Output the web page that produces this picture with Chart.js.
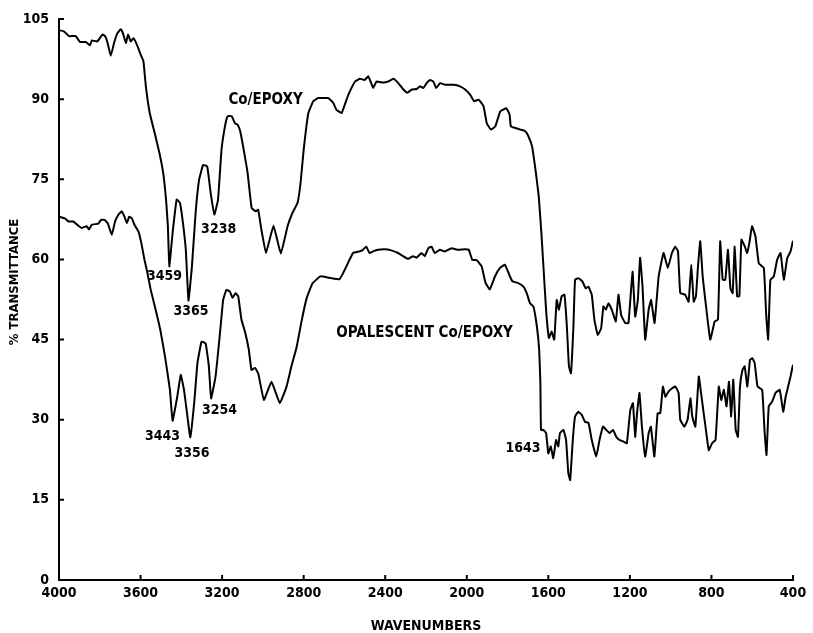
<!DOCTYPE html>
<html>
<head>
<meta charset="utf-8">
<script src="https://cdn.jsdelivr.net/npm/chart.js@4.4.1/dist/chart.umd.min.js"></script>
<style>
  html, body { margin: 0; padding: 0; background: #fff; }
  #wrap { width: 813px; height: 633px; }
</style>
</head>
<body>
<div id="wrap"><canvas id="irChart"></canvas></div>
<script>
var xTicks = [4000, 3600, 3200, 2800, 2400, 2000, 1600, 1200, 800, 400];
var yTicks = [0, 15, 30, 45, 60, 75, 90, 105];

// Co/EPOXY (upper trace)
var epoxyWn = [4000, 3976, 3951, 3918, 3897, 3869, 3848, 3839, 3812, 3787, 3774, 3763, 3746, 3730, 3714, 3697, 3687, 3672, 3661, 3648,
  3635, 3618, 3599, 3586, 3574, 3555, 3531, 3508, 3489, 3475, 3466, 3459, 3443, 3423, 3407, 3394, 3378, 3365, 3348, 3330,
  3313, 3293, 3273, 3256, 3238, 3220, 3203, 3186, 3173, 3153, 3137, 3124, 3111, 3094, 3075, 3055, 3034, 3023, 3010, 2985,
  2948, 2912, 2879, 2855, 2830, 2815, 2800, 2777, 2753, 2729, 2680, 2655, 2639, 2614, 2598, 2581, 2548, 2524, 2500, 2483,
  2472, 2459, 2443, 2410, 2385, 2360, 2336, 2311, 2291, 2270, 2246, 2229, 2213, 2197, 2180, 2164, 2150, 2131, 2106, 2065,
  2033, 2008, 1983, 1964, 1942, 1918, 1902, 1882, 1860, 1836, 1806, 1790, 1784, 1762, 1737, 1713, 1697, 1680, 1661, 1647,
  1634, 1622, 1610, 1597, 1584, 1571, 1559, 1548, 1535, 1521, 1509, 1499, 1489, 1477, 1469, 1453, 1433, 1417, 1403, 1387,
  1374, 1358, 1341, 1330, 1318, 1305, 1289, 1269, 1256, 1243, 1223, 1207, 1187, 1174, 1161, 1150, 1138, 1125, 1108, 1096,
  1079, 1059, 1035, 1014, 994, 978, 964, 953, 929, 912, 899, 887, 876, 866, 855, 843, 830, 806, 784, 768,
  757, 745, 732, 719, 707, 696, 686, 674, 663, 653, 636, 625, 614, 601, 584, 568, 543, 532, 522, 511,
  494, 478, 461, 445, 428, 412, 400];
var epoxyT = [102.9, 102.7, 101.8, 101.8, 100.7, 100.7, 100.1, 101.0, 100.8, 102.1, 101.8, 100.7, 98.1, 100.5, 102.3, 103.1, 102.4, 100.5, 102.1, 100.8,
  101.4, 100.2, 98.3, 97.1, 92.4, 87.4, 83.7, 80.0, 76.2, 71.2, 66.2, 58.7, 64.9, 71.2, 70.6, 67.4, 61.8, 52.3, 58.7, 68.7,
  74.9, 77.7, 77.4, 72.4, 68.4, 71.2, 80.5, 84.9, 86.8, 86.8, 85.5, 85.2, 84.0, 80.5, 76.2, 69.6, 69.0, 69.3, 66.2, 61.2,
  66.3, 61.1, 66.2, 68.7, 70.6, 74.4, 80.5, 87.4, 89.6, 90.2, 90.2, 89.3, 88.0, 87.4, 89.0, 90.8, 93.3, 93.8, 93.6, 94.3,
  93.3, 92.1, 93.3, 93.1, 93.3, 93.8, 93.0, 91.8, 91.2, 91.8, 91.9, 92.4, 92.1, 93.0, 93.6, 93.3, 92.1, 93.0, 92.7, 92.7,
  92.4, 91.8, 90.8, 89.6, 89.9, 88.7, 85.5, 84.3, 84.9, 87.7, 88.3, 87.1, 84.9, 84.6, 84.3, 84.0, 83.0, 81.2, 76.2, 71.8,
  64.9, 57.4, 50.0, 45.3, 46.5, 45.0, 52.4, 50.6, 53.1, 53.4, 47.4, 40.0, 38.7, 47.4, 56.2, 56.5, 55.9, 54.6, 54.9, 53.4,
  48.7, 45.9, 47.1, 51.2, 50.6, 51.8, 50.6, 48.4, 53.4, 49.6, 48.1, 48.1, 57.7, 49.3, 52.4, 60.3, 54.9, 45.0, 50.6, 52.4,
  48.1, 56.8, 61.2, 58.4, 61.2, 62.4, 61.5, 53.7, 53.4, 52.1, 59.0, 52.1, 53.1, 58.7, 63.4, 56.8, 52.4, 45.0, 48.4, 48.7,
  63.4, 56.2, 56.2, 61.8, 54.6, 53.7, 62.4, 53.1, 53.1, 63.7, 62.4, 61.2, 63.1, 66.2, 64.3, 59.3, 58.4, 50.0, 45.0, 56.2,
  56.8, 59.9, 61.2, 56.2, 60.3, 61.5, 63.5];

// OPALESCENT Co/EPOXY (lower trace)
var opalWn = [4000, 3971, 3954, 3930, 3905, 3889, 3864, 3853, 3839, 3807, 3794, 3777, 3761, 3741, 3725, 3708, 3692, 3679, 3667, 3656,
  3643, 3630, 3610, 3596, 3581, 3566, 3550, 3526, 3503, 3480, 3456, 3443, 3420, 3403, 3387, 3372, 3356, 3337, 3321, 3301,
  3281, 3265, 3254, 3232, 3212, 3195, 3179, 3162, 3149, 3134, 3121, 3105, 3088, 3069, 3056, 3039, 3023, 2995, 2958, 2917,
  2884, 2860, 2835, 2810, 2785, 2757, 2720, 2706, 2665, 2624, 2607, 2583, 2558, 2526, 2509, 2493, 2477, 2460, 2435, 2403,
  2370, 2337, 2312, 2288, 2263, 2247, 2222, 2206, 2189, 2173, 2157, 2132, 2108, 2075, 2042, 2010, 1990, 1973, 1952, 1927,
  1908, 1887, 1862, 1837, 1813, 1788, 1776, 1750, 1722, 1706, 1690, 1673, 1656, 1645, 1639, 1636, 1625, 1611, 1600, 1588,
  1576, 1562, 1551, 1543, 1526, 1513, 1502, 1493, 1480, 1469, 1453, 1436, 1420, 1403, 1387, 1365, 1349, 1332, 1316, 1300,
  1283, 1267, 1251, 1231, 1215, 1198, 1185, 1174, 1165, 1153, 1141, 1125, 1108, 1097, 1080, 1064, 1051, 1038, 1026, 1010,
  993, 977, 961, 953, 933, 917, 903, 894, 879, 862, 851, 838, 825, 813, 797, 780, 764, 752, 739, 726,
  714, 703, 693, 681, 670, 660, 648, 637, 624, 611, 599, 588, 574, 551, 540, 530, 519, 502, 486, 465,
  448, 436, 412, 400];
var opalT = [68.0, 67.7, 67.1, 67.1, 66.3, 65.9, 66.2, 65.6, 66.5, 66.7, 67.4, 67.4, 66.8, 64.6, 67.1, 68.4, 69.0, 68.0, 66.8, 68.0,
  67.7, 66.5, 65.2, 63.0, 60.0, 57.4, 54.3, 50.6, 46.8, 41.8, 35.6, 29.8, 34.3, 38.4, 35.6, 31.2, 26.7, 33.1, 40.6, 44.6,
  44.3, 40.0, 34.0, 38.1, 45.6, 52.4, 54.3, 54.0, 52.8, 53.7, 53.1, 48.7, 46.5, 43.1, 39.3, 39.7, 38.7, 33.7, 37.1, 33.1,
  36.2, 40.0, 43.5, 48.5, 52.8, 55.5, 56.8, 56.8, 56.5, 56.3, 57.4, 59.3, 61.2, 61.5, 61.8, 62.4, 61.2, 61.5, 61.8, 61.9,
  61.7, 61.2, 60.6, 60.1, 60.6, 60.3, 61.2, 60.6, 62.1, 62.4, 61.2, 61.8, 61.5, 62.1, 61.8, 61.9, 61.8, 59.9, 59.9, 58.7,
  55.6, 54.4, 56.8, 58.4, 59.0, 56.8, 55.9, 55.6, 54.9, 53.7, 51.8, 51.2, 47.4, 43.1, 36.9, 28.1, 28.1, 27.5, 23.7, 25.0,
  22.8, 26.2, 25.0, 27.5, 28.1, 26.2, 20.0, 18.7, 26.2, 30.6, 31.5, 30.9, 29.6, 29.4, 26.2, 23.1, 26.2, 28.7, 28.1, 27.5,
  28.1, 26.8, 26.2, 25.9, 25.6, 31.8, 33.1, 26.8, 31.2, 35.0, 28.7, 23.1, 27.5, 28.7, 23.1, 31.2, 31.2, 36.2, 34.3, 35.3,
  35.9, 36.2, 35.0, 30.0, 28.7, 30.0, 34.0, 30.6, 28.7, 38.1, 35.0, 31.2, 27.5, 24.3, 25.6, 26.2, 36.2, 33.7, 35.6, 32.5,
  37.1, 30.6, 37.5, 28.1, 26.8, 36.2, 39.3, 40.0, 36.2, 41.2, 41.5, 40.6, 36.2, 35.6, 28.1, 23.4, 32.5, 33.4, 35.0, 35.6,
  31.5, 34.3, 38.1, 40.3];

var seriesNames = ['Co/EPOXY', 'OPALESCENT Co/EPOXY'];
var nameAtWn = [2987, 2207];
var nameAtT = [89.8, 46.2];

var peakText = ['3459', '3365', '3238', '3443', '3356', '3254', '1643'];
var peakAtWn = [3483, 3353, 3217, 3492, 3348, 3213, 1724];
var peakAtT = [56.8, 50.2, 65.6, 26.8, 23.7, 31.8, 24.7];

var txtFont = { family: '"DejaVu Sans Condensed", "DejaVu Sans", sans-serif', size: 14, weight: 'bold' };

function toPoints(xs, ys) {
  return xs.map(function (x, i) { return { x: x, y: ys[i] }; });
}

// inward tick marks, curve names, peak numbers and the rotated y title
var labelPlugin = {
  id: 'irLabels',
  afterDraw: function (chart) {
    var c = chart.ctx, sx = chart.scales.x, sy = chart.scales.y, a = chart.chartArea;
    c.save();
    c.strokeStyle = '#000';
    c.lineWidth = 2;
    c.beginPath();
    yTicks.forEach(function (v) {
      var py = sy.getPixelForValue(v);
      c.moveTo(a.left, py); c.lineTo(a.left + 5, py);
    });
    xTicks.forEach(function (v) {
      var px = sx.getPixelForValue(v);
      c.moveTo(px, a.bottom); c.lineTo(px, a.bottom - 5);
    });
    c.stroke();

    c.fillStyle = '#000';
    c.textAlign = 'center';
    c.textBaseline = 'middle';
    c.font = 'bold 15px "DejaVu Sans Condensed", "DejaVu Sans", sans-serif';
    seriesNames.forEach(function (t, i) {
      c.fillText(t, sx.getPixelForValue(nameAtWn[i]), sy.getPixelForValue(nameAtT[i]));
    });
    c.font = 'bold 14px "DejaVu Sans Condensed", "DejaVu Sans", sans-serif';
    peakText.forEach(function (t, i) {
      c.fillText(t, sx.getPixelForValue(peakAtWn[i]), sy.getPixelForValue(peakAtT[i]));
    });
    c.translate(15, 282);
    c.rotate(-Math.PI / 2);
    c.font = 'bold 13px "DejaVu Sans Condensed", "DejaVu Sans", sans-serif';
    c.fillText('% TRANSMITTANCE', 0, 0);
    c.restore();
  }
};

var ctx = document.getElementById('irChart').getContext('2d');
var irChart = new Chart(ctx, {
  type: 'line',
  data: {
    datasets: [{
      label: seriesNames[0],
      data: toPoints(epoxyWn, epoxyT),
      borderColor: '#000',
      borderWidth: 2,
      pointRadius: 0,
      tension: 0.1,
      fill: false
    }, {
      label: seriesNames[1],
      data: toPoints(opalWn, opalT),
      borderColor: '#000',
      borderWidth: 2,
      pointRadius: 0,
      tension: 0.1,
      fill: false
    }]
  },
  options: {
    responsive: true,
    maintainAspectRatio: false,
    animation: false,
    layout: { padding: { top: 19, right: 20, left: 0, bottom: 0 } },
    plugins: { legend: { display: false }, tooltip: { enabled: false } },
    scales: {
      x: {
        type: 'linear',
        reverse: true,
        min: 400,
        max: 4000,
        afterBuildTicks: function (s) { s.ticks = xTicks.map(function (v) { return { value: v }; }); },
        afterFit: function (s) { s.height = 53; },
        ticks: { color: '#000', font: txtFont, padding: 5, maxRotation: 0, autoSkip: false,
          callback: function (v) { return String(v); } },
        grid: { drawOnChartArea: false, drawTicks: false },
        border: { color: '#000', width: 2 },
        title: { display: true, text: 'WAVENUMBERS', color: '#000', font: { family: txtFont.family, size: 14, weight: 'bold', lineHeight: 1 }, padding: 0 }
      },
      y: {
        min: 0,
        max: 105,
        afterBuildTicks: function (s) { s.ticks = yTicks.map(function (v) { return { value: v }; }); },
        afterFit: function (s) { s.width = 59; },
        ticks: { color: '#000', font: txtFont, padding: 10, callback: function (v) { return String(v); } },
        grid: { drawOnChartArea: false, drawTicks: false },
        border: { color: '#000', width: 2 }
      }
    }
  },
  plugins: [labelPlugin]
});
</script>
</body>
</html>
